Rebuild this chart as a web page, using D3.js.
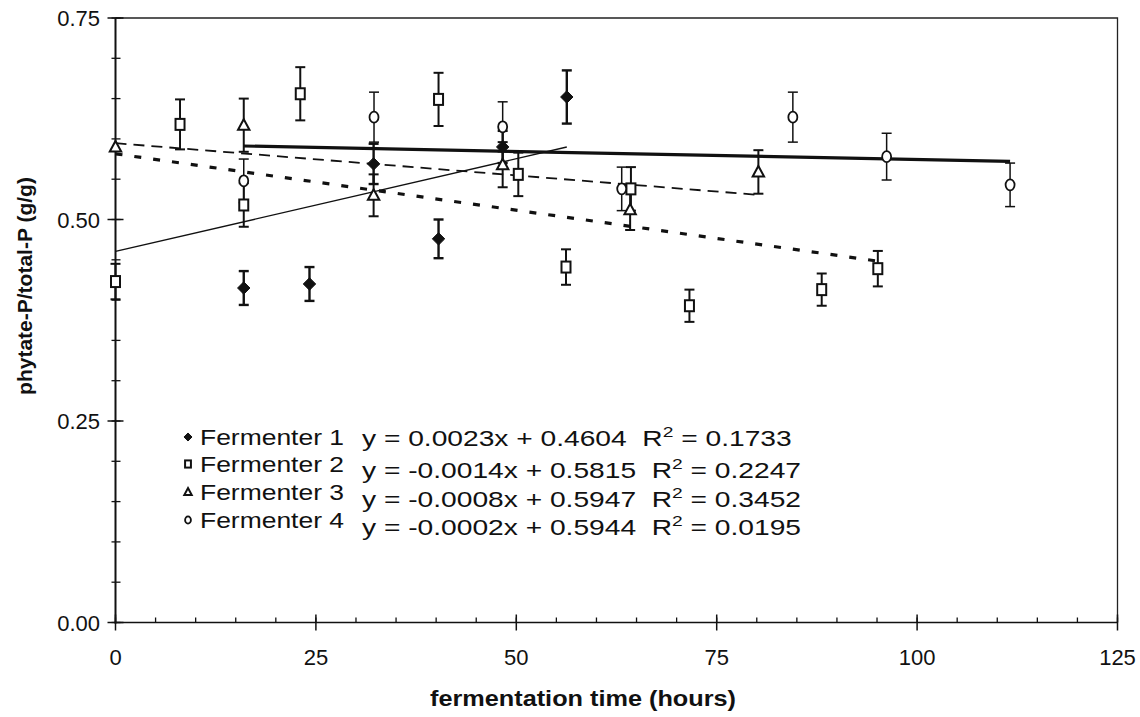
<!DOCTYPE html>
<html>
<head>
<meta charset="utf-8">
<script src="https://cdn.jsdelivr.net/npm/d3@7/dist/d3.min.js"></script>
<style>
  html, body { margin: 0; padding: 0; background: #fff; }
  svg { display: block; }
  text { font-family: "Liberation Sans", Arial, sans-serif; fill: #111; }
</style>
</head>
<body>
<svg id="chart" width="1140" height="717"></svg>
<script>
// Phytate-P / total-P over fermentation time, four fermenters

// Fermenter 1 (filled diamonds)
const hours1 = [16, 24.2, 32.2, 40.3, 48.3, 56.3];
const ratio1 = [0.415, 0.420, 0.569, 0.476, 0.590, 0.652];
const err1   = [0.021, 0.021, 0.025, 0.024, 0.020, 0.033];

// Fermenter 2 (open squares)
const hours2 = [0, 8.05, 16, 23.05, 40.3, 50.25, 56.2, 64.3, 71.6, 88.1, 95.1];
const ratio2 = [0.423, 0.618, 0.518, 0.656, 0.649, 0.556, 0.441, 0.538, 0.393, 0.413, 0.439];
const err2   = [0.022, 0.031, 0.027, 0.033, 0.033, 0.027, 0.022, 0.027, 0.020, 0.020, 0.022];

// Fermenter 3 (open triangles)
const hours3 = [0, 16, 32.2, 48.3, 64.2, 80.2];
const ratio3 = [0.590, 0.617, 0.530, 0.568, 0.512, 0.559];
const err3   = [0, 0.033, 0.026, 0.028, 0.025, 0.027];

// Fermenter 4 (open circles)
const hours4 = [16, 32.25, 48.3, 63.15, 84.5, 96.2, 111.6];
const ratio4 = [0.548, 0.627, 0.615, 0.538, 0.627, 0.578, 0.543];
const err4   = [0.027, 0.031, 0.031, 0.027, 0.031, 0.029, 0.027];

// Linear trend lines: y = slope * x + intercept, drawn over [from, to]
const seriesNames = ["Fermenter 1", "Fermenter 2", "Fermenter 3", "Fermenter 4"];
const slopes      = [0.0023, -0.0014, -0.0008, -0.0002];
const intercepts  = [0.4604, 0.5815, 0.5947, 0.5944];
const rSquared    = ["0.1733", "0.2247", "0.3452", "0.0195"];
const trendFrom   = [0, 0, 0, 16];
const trendTo     = [56.3, 95.1, 80.2, 111.6];

// Axis ticks
const xTicks = [0, 25, 50, 75, 100, 125];
const yTicks = [0, 0.25, 0.5, 0.75];
const xMinor = d3.range(0, 125.01, 5);
const yMinor = d3.range(0, 0.7501, 0.05);

const svg = d3.select("#chart");
const plotLeft = 115.5, plotRight = 1117.5, plotTop = 18, plotBottom = 622.5;

const x = d3.scaleLinear().domain([0, 125]).range([plotLeft, plotRight]);
const y = d3.scaleLinear().domain([0, 0.75]).range([plotBottom, plotTop]);

// plot frame (top and right)
svg.append("path")
  .attr("d", `M${plotLeft},${plotTop}H${plotRight}V${plotBottom}`)
  .attr("fill", "none").attr("stroke", "#222").attr("stroke-width", 1.3);

// axes lines
svg.append("line").attr("x1", plotLeft).attr("x2", plotLeft).attr("y1", plotTop).attr("y2", plotBottom + 1)
  .attr("stroke", "#111").attr("stroke-width", 2);
svg.append("line").attr("x1", plotLeft - 1).attr("x2", plotRight).attr("y1", plotBottom).attr("y2", plotBottom)
  .attr("stroke", "#111").attr("stroke-width", 1.5);

// x axis ticks
svg.append("g").selectAll("line").data(xMinor).join("line")
  .attr("x1", d => x(d)).attr("x2", d => x(d))
  .attr("y1", plotBottom).attr("y2", plotBottom - 5)
  .attr("stroke", "#111").attr("stroke-width", 1.3);
svg.append("g").selectAll("line").data(xTicks).join("line")
  .attr("x1", d => x(d)).attr("x2", d => x(d))
  .attr("y1", plotBottom - 8).attr("y2", plotBottom + 8)
  .attr("stroke", "#111").attr("stroke-width", 1.5);
svg.append("g").selectAll("text").data(xTicks).join("text")
  .attr("x", d => x(d)).attr("y", 665)
  .attr("text-anchor", "middle").attr("font-size", 22)
  .text(d => d);

// y axis ticks
svg.append("g").selectAll("line").data(yMinor).join("line")
  .attr("x1", plotLeft - 4).attr("x2", plotLeft + 5)
  .attr("y1", d => y(d)).attr("y2", d => y(d))
  .attr("stroke", "#111").attr("stroke-width", 1.3);
svg.append("g").selectAll("line").data(yTicks).join("line")
  .attr("x1", plotLeft - 8).attr("x2", plotLeft + 8)
  .attr("y1", d => y(d)).attr("y2", d => y(d))
  .attr("stroke", "#111").attr("stroke-width", 1.5);
svg.append("g").selectAll("text").data(yTicks).join("text")
  .attr("x", 100).attr("y", d => y(d) + 8)
  .attr("text-anchor", "end").attr("font-size", 22)
  .text(d => d3.format(".2f")(d));

// axis titles
svg.append("text")
  .attr("x", 583).attr("y", 706)
  .attr("text-anchor", "middle").attr("font-size", 22).attr("font-weight", "bold")
  .attr("textLength", 306).attr("lengthAdjust", "spacingAndGlyphs")
  .text("fermentation time (hours)");
svg.append("text")
  .attr("transform", "translate(32,286) rotate(-90)")
  .attr("text-anchor", "middle").attr("font-size", 21).attr("font-weight", "bold")
  .text("phytate-P/total-P (g/g)");

// trend lines
const trendStyle = [
  { w: 1.4, dash: null },
  { w: 3.2, dash: "7,12" },
  { w: 1.8, dash: "11,7" },
  { w: 3.2, dash: null }
];
seriesNames.forEach((name, i) => {
  const pts = [trendFrom[i], trendTo[i]].map(h => [x(h), y(slopes[i] * h + intercepts[i])]);
  svg.append("path")
    .attr("d", d3.line()(pts))
    .attr("fill", "none").attr("stroke", "#111")
    .attr("stroke-width", trendStyle[i].w)
    .attr("stroke-dasharray", trendStyle[i].dash);
});

// error bars
const series = [
  { h: hours1, v: ratio1, e: err1, w: 2.4 },
  { h: hours2, v: ratio2, e: err2, w: 2.0 },
  { h: hours3, v: ratio3, e: err3, w: 2.0 },
  { h: hours4, v: ratio4, e: err4, w: 1.5 }
];
series.forEach(s => {
  const g = svg.append("g").attr("stroke", "#111").attr("stroke-width", s.w);
  s.h.forEach((h, j) => {
    if (!s.e[j]) return;
    const cx = x(h), y1 = y(s.v[j] + s.e[j]), y2 = y(s.v[j] - s.e[j]);
    g.append("line").attr("x1", cx).attr("x2", cx).attr("y1", y1).attr("y2", y2);
    g.append("line").attr("x1", cx - 5).attr("x2", cx + 5).attr("y1", y1).attr("y2", y1);
    g.append("line").attr("x1", cx - 5).attr("x2", cx + 5).attr("y1", y2).attr("y2", y2);
  });
});

// marker shapes
function marker(g, kind, cx, cy, size) {
  if (kind === 0) {
    const r = size * 0.62;
    g.append("path").attr("d", `M${cx},${cy - r}L${cx + r},${cy}L${cx},${cy + r}L${cx - r},${cy}Z`)
      .attr("fill", "#111").attr("stroke", "#111").attr("stroke-width", 1);
  } else if (kind === 1) {
    g.append("rect").attr("x", cx - size * 0.45).attr("y", cy - size * 0.55)
      .attr("width", size * 0.9).attr("height", size * 1.1)
      .attr("fill", "#fff").attr("stroke", "#111").attr("stroke-width", size > 6 ? 2 : 1.3);
  } else if (kind === 2) {
    const r = size * 0.6;
    g.append("path").attr("d", `M${cx},${cy - r}L${cx + r * 0.95},${cy + r * 0.75}L${cx - r * 0.95},${cy + r * 0.75}Z`)
      .attr("fill", "#fff").attr("stroke", "#111").attr("stroke-width", size > 6 ? 2 : 1.3);
  } else {
    g.append("ellipse").attr("cx", cx).attr("cy", cy).attr("rx", size * 0.45).attr("ry", size * 0.55)
      .attr("fill", "#fff").attr("stroke", "#111").attr("stroke-width", size > 6 ? 1.8 : 1.2);
  }
}

series.forEach((s, i) => {
  const g = svg.append("g");
  s.h.forEach((h, j) => marker(g, i, x(h), y(s.v[j]), 10));
});

// legend with trend equations
const legendRows = [445, 472, 500, 528];
const eqRows = [446, 478, 507, 535];
const legend = svg.append("g");
const eqGroups = [];
seriesNames.forEach((name, i) => {
  marker(legend, i, 188, legendRows[i] - 8, 6.5);
  legend.append("text")
    .attr("x", 200).attr("y", legendRows[i])
    .attr("font-size", 22)
    .attr("textLength", 144).attr("lengthAdjust", "spacingAndGlyphs")
    .text(name);
  const sign = slopes[i] < 0 ? "-" : "";
  const eg = legend.append("g");
  const t = eg.append("text").attr("x", 0).attr("y", 0).attr("font-size", 22);
  t.append("tspan").text(`y = ${sign}${d3.format(".4f")(Math.abs(slopes[i]))}x + ${d3.format(".4f")(intercepts[i])}\u00a0\u00a0R`);
  t.append("tspan").attr("dy", -9).attr("font-size", 15).text("2");
  t.append("tspan").attr("dy", 9).text(` = ${rSquared[i]}`);
  eqGroups.push({ g: eg, t: t, row: eqRows[i] });
});
// equations share one horizontal stretch, set so the first spans x 362..792
const eqStretch = 430 / eqGroups[0].t.node().getComputedTextLength();
eqGroups.forEach(e => e.g.attr("transform", `translate(362,${e.row}) scale(${eqStretch},1)`));
</script>
</body>
</html>
